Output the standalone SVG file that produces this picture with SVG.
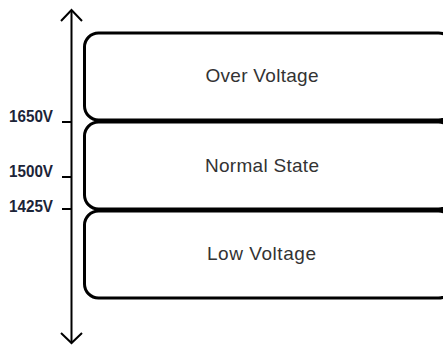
<svg xmlns="http://www.w3.org/2000/svg" width="443" height="345" viewBox="0 0 443 345">
<style>
.box{fill:#fff;stroke:#000;stroke-width:3}
.lbl{font-family:"Liberation Sans",Arial,sans-serif;font-size:19px;fill:#333;text-anchor:middle}
.v{font-family:"Liberation Sans",Arial,sans-serif;font-size:16px;font-weight:bold;fill:#1c2438}
.ax{stroke:#000;stroke-width:2;fill:none}
</style>
<rect width="443" height="345" fill="#fff"/>
<g id="axis">
<line class="ax" x1="71.5" y1="10" x2="71.5" y2="343"/>
<polyline class="ax" points="61,21 71.5,10 82,21"/>
<polyline class="ax" points="61,333 71.5,343 82,333"/>
<line class="ax" x1="62" y1="122" x2="71.5" y2="122"/>
<line class="ax" x1="62" y1="177" x2="71.5" y2="177"/>
<line class="ax" x1="62" y1="209" x2="71.5" y2="209"/>
<text class="v" x="9" y="122" textLength="44" lengthAdjust="spacingAndGlyphs">1650V</text>
<text class="v" x="9" y="177" textLength="44" lengthAdjust="spacingAndGlyphs">1500V</text>
<text class="v" x="9" y="212" textLength="44" lengthAdjust="spacingAndGlyphs">1425V</text>
</g>
<g id="over">
<rect class="box" x="84.5" y="33" width="368" height="87" rx="14"/>
<text class="lbl" x="262" y="82" textLength="113">Over Voltage</text>
</g>
<g id="normal">
<rect class="box" x="84.5" y="122" width="368" height="87" rx="14"/>
<text class="lbl" x="262" y="172" textLength="114">Normal State</text>
</g>
<g id="low">
<rect class="box" x="84.5" y="211" width="368" height="87" rx="14"/>
<text class="lbl" x="261.5" y="260" textLength="109">Low Voltage</text>
</g>
</svg>
